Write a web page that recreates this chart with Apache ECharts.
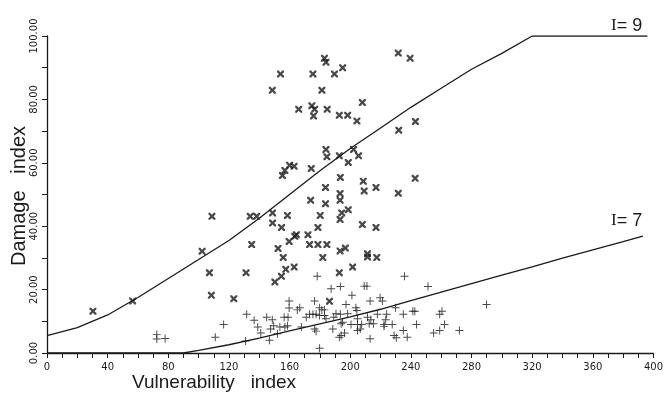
<!DOCTYPE html>
<html>
<head>
<meta charset="utf-8">
<script src="https://cdn.jsdelivr.net/npm/echarts@6/dist/echarts.min.js"></script>
<style>
  html, body { margin: 0; padding: 0; background: #fff; }
  #chart { width: 666px; height: 401px; }
</style>
</head>
<body>
<div id="chart"></div>
<script>
// boundary curves, [vulnerability, damage]
const curveI9 = [[0, 5.5], [20, 8], [40, 12], [60, 17.5], [80, 23.5], [100, 29.5], [120, 35.5], [140, 42.5],
  [160, 50], [180, 57.5], [200, 64.5], [220, 71], [240, 77.5], [260, 83.5], [280, 89.5], [300, 94.5],
  [320, 100], [396, 100]]
const curveI7 = [[0, 0], [90, 0], [100, 0.8], [120, 2.6], [140, 4.7], [160, 7], [180, 9.2], [200, 11.4],
  [220, 13.8], [240, 16.5], [260, 19.2], [280, 21.9], [300, 24.6], [320, 27.2], [340, 29.9], [360, 32.5],
  [380, 35.1], [393, 36.9]]

// observed buildings, intensity 9 (asterisks)
const pointsI9 = [[30.3, 13.2], [56.5, 16.4], [102.3, 32.1], [108.8, 43.1], [134, 43.1], [138.3, 43.1],
  [148.8, 44.2], [148.8, 41], [148.6, 82.9], [183, 93], [184, 91.7], [195, 90], [154, 88], [175.4, 88],
  [189.6, 88], [181.3, 82.9], [208, 79], [166, 76.9], [174.7, 78], [176.5, 76.9], [184.8, 76.9],
  [175.8, 74.8], [192.8, 75], [198.3, 75], [204.4, 73.2], [184, 64.2], [184.6, 61.9], [192.8, 62.2],
  [202.2, 64.2], [205.5, 62.2], [198.7, 60.1], [160, 59.2], [163, 58.9], [156.9, 57.6], [155.3, 56],
  [174.3, 58.2], [193.5, 55.4], [183.7, 52.2], [208.6, 54.2], [209.2, 51.1], [217, 52.2], [193.3, 50.3],
  [193.3, 48.2], [173.9, 48.2], [183.7, 47.1], [194.4, 44.2], [198.7, 45.2], [193.3, 42.1], [158.6, 43.4],
  [154.7, 39.6], [180.2, 43.4], [178.7, 39.6], [208, 40.5], [217, 39.6], [135, 34.2], [152.4, 33],
  [107.1, 25.3], [131.3, 25.3], [150.3, 22.4], [108.4, 18.2], [123.2, 17.1], [164.5, 37.3], [163.4, 36.8],
  [172.1, 37.3], [159.7, 35.2], [173.2, 34.2], [178.7, 34.2], [184.6, 34.2], [193.3, 32.2], [196.8, 33.1],
  [211.4, 31.3], [211.4, 30.3], [217.5, 30.1], [155.8, 30.1], [181.9, 30.1], [157.5, 26.4], [154.6, 24.2],
  [163, 27.1], [192.8, 25.3], [201.6, 27.1], [186.3, 16.3],
  [231.7, 94.6], [239.5, 93], [243, 73], [232, 70.3], [242.8, 55.1], [231.7, 50.4]]

// observed buildings, intensity 7 (crosses)
const pointsI7 = [[72.4, 5.8], [72.4, 4.4], [77.9, 4.6], [111, 5], [116.5, 9], [131.7, 12.2], [136.6, 10.3],
  [139, 8.2], [141, 6.3], [144.9, 11.3], [148.6, 10.5], [147.5, 7.6], [149.5, 8.6], [146.7, 4], [131, 3.8],
  [178.2, 24.2], [235.8, 24.2], [251.3, 21], [187.4, 20.3], [193.5, 21], [209.2, 21.1], [211, 21.1],
  [201.1, 18.2], [159.7, 16.4], [159.7, 14.2], [176.5, 16.4], [166.7, 14.3], [165.1, 13.6], [179.8, 14.3],
  [181.3, 13.6], [183, 13.6], [197.2, 15.3], [203.7, 14.3], [204.4, 13.4], [213.1, 16.4], [219.7, 17.4],
  [221.2, 16.4], [229.9, 14.3], [241.3, 13.2], [242.6, 13.2], [260.5, 13.2], [259, 12.2], [289.9, 15.3],
  [156.4, 11.3], [159, 11.3], [153.6, 8.2], [156.9, 8.2], [158.6, 8.6], [152, 6.1], [167.8, 8.2],
  [171, 11.3], [173.2, 12.2], [175.4, 12.2], [177.5, 12.2], [176.5, 7.6], [177.5, 6.9], [179.8, 11.8],
  [183, 11.8], [184, 10.8], [189.1, 11.3], [190.6, 12.4], [193.5, 12.2], [198.3, 12.4], [188.5, 7.6],
  [194, 9.2], [195, 9.7], [194, 5.5], [196.2, 6.3], [192.8, 5], [200.5, 9], [204.8, 10.8], [204.8, 9],
  [204.8, 7.1], [206.6, 7.6], [207.5, 9], [211.4, 11.3], [213.6, 10.5], [212.5, 9.2], [215.3, 9.2],
  [217.9, 12.2], [224, 12.2], [223.4, 10.5], [222.3, 9], [222.3, 8.4], [227.7, 9], [235, 12.2],
  [213.1, 4.5], [228.9, 5.5], [230.4, 4.8], [235, 7.1], [237.6, 5], [243.7, 9], [255, 6.3], [259, 7.1],
  [262.2, 9], [272, 7.1], [179.8, 1.5]]

const xTicks = { min: 0, max: 400, step: 40 }
const yTicks = { min: 0, max: 100, step: 20 }

const ink = '#1a1a1a'
const starSymbol = 'path://M0,0 L2.4,0 L5,2.8 L7.6,0 L10,0 L10,2.4 L7.2,5 L10,7.6 L10,10 L7.6,10 L5,7.2 L2.4,10 L0,10 L0,7.6 L2.8,5 L0,2.4 Z'
const plusSymbol = 'path://M4.4,0 H5.6 V4.4 H10 V5.6 H5.6 V10 H4.4 V5.6 H0 V4.4 H4.4 Z'

const chart = echarts.init(document.getElementById('chart'))

chart.setOption({
  backgroundColor: '#fff',
  animation: false,
  grid: { left: 47, right: 8, top: 36, bottom: 48 },
  xAxis: {
    type: 'value',
    min: xTicks.min,
    max: xTicks.max,
    interval: xTicks.step,
    axisLine: { lineStyle: { color: ink, width: 1.3 } },
    axisTick: { show: true, length: 5, lineStyle: { color: ink } },
    minorTick: { show: true, splitNumber: 4, length: 5, lineStyle: { color: ink } },
    axisLabel: { color: ink, fontSize: 10, fontFamily: 'DejaVu Sans', margin: 9, showMaxLabel: true },
    splitLine: { show: false }
  },
  yAxis: {
    type: 'value',
    min: yTicks.min,
    max: yTicks.max,
    interval: yTicks.step,
    axisLine: { show: true, lineStyle: { color: ink, width: 1.3 } },
    axisTick: { show: true, length: 5, lineStyle: { color: ink } },
    minorTick: { show: true, splitNumber: 2, length: 5, lineStyle: { color: ink } },
    axisLabel: {
      color: ink,
      fontSize: 10,
      fontFamily: 'DejaVu Sans',
      rotate: 90,
      margin: 8,
      formatter: v => v.toFixed(2)
    },
    splitLine: { show: false }
  },
  graphic: [
    {
      type: 'text', left: 132, top: 373,
      style: { text: 'Vulnerability   index', font: '19px "Liberation Sans"', fill: ink }
    },
    {
      type: 'text', x: 9, y: 266, rotation: Math.PI / 2,
      style: { text: 'Damage   index', font: '20px "Liberation Sans"', fill: ink }
    },
    {
      type: 'text', left: 611, top: 17,
      style: {
        text: '{i|I}{s|= 9}',
        rich: {
          i: { font: '17px "Liberation Serif"', fill: ink },
          s: { font: '18px "Liberation Sans"', fill: ink }
        }
      }
    },
    {
      type: 'text', left: 611, top: 212,
      style: {
        text: '{i|I}{s|= 7}',
        rich: {
          i: { font: '17px "Liberation Serif"', fill: ink },
          s: { font: '18px "Liberation Sans"', fill: ink }
        }
      }
    }
  ],
  series: [
    {
      name: 'I=9',
      type: 'line',
      data: curveI9,
      showSymbol: false,
      lineStyle: { color: ink, width: 1.3 },
      z: 2
    },
    {
      name: 'I=7',
      type: 'line',
      data: curveI7,
      showSymbol: false,
      lineStyle: { color: ink, width: 1.3 },
      z: 2
    },
    {
      name: 'I=9 data',
      type: 'scatter',
      data: pointsI9,
      symbol: starSymbol,
      symbolSize: 7,
      itemStyle: { color: ink },
      z: 3
    },
    {
      name: 'I=7 data',
      type: 'scatter',
      data: pointsI7,
      symbol: plusSymbol,
      symbolSize: 8,
      itemStyle: { color: ink },
      z: 3
    }
  ]
})
</script>
</body>
</html>
